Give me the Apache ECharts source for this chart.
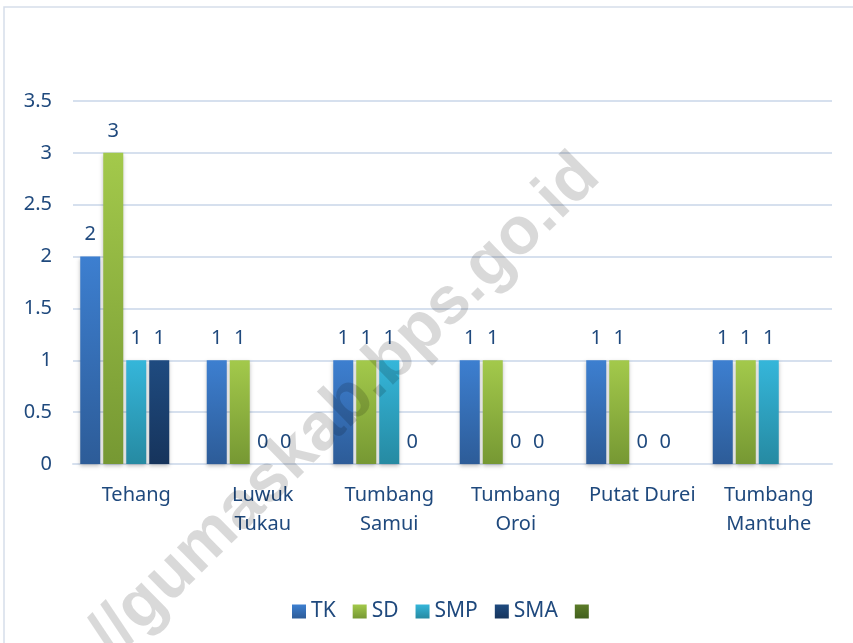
<!DOCTYPE html>
<html>
<head>
<meta charset="utf-8">
<script src="https://cdn.jsdelivr.net/npm/echarts@6/dist/echarts.min.js"></script>
<style>
html,body{margin:0;padding:0;background:#fff;}
#chart{width:853px;height:643px;}
</style>
</head>
<body>
<div id="chart"></div>
<script>
var categories = ['Tehang', 'Luwuk\nTukau', 'Tumbang\nSamui', 'Tumbang\nOroi', 'Putat Durei', 'Tumbang\nMantuhe'];
var seriesNames = ['TK', 'SD', 'SMP', 'SMA', ' '];
var tkValues  = [2, 1, 1, 1, 1, 1];
var sdValues  = [3, 1, 1, 1, 1, 1];
var smpValues = [1, 0, 1, 0, 0, 1];
var smaValues = [1, 0, 0, 0, 0, null];
var fifthValues = [null, null, null, null, null, null];
var yTicks = [0, 0.5, 1, 1.5, 2, 2.5, 3, 3.5];

var textColor = '#1F497D';
var fontFam = '"Noto Sans", "Open Sans", sans-serif';
var gradients = [
  ['#3D7FD0', '#2D5C98'],
  ['#A3C94B', '#769833'],
  ['#35B6DA', '#268AA2'],
  ['#1F4B80', '#16345C'],
  ['#5C7C29', '#42601D']
];
function grad(c) {
  return {type: 'linear', x: 0, y: 0, x2: 0, y2: 1,
    colorStops: [{offset: 0, color: c[0]}, {offset: 1, color: c[1]}]};
}
var allData = [tkValues, sdValues, smpValues, smaValues, fifthValues];

var chart = echarts.init(document.getElementById('chart'));
var series = allData.map(function (d, i) {
  return {
    name: seriesNames[i],
    type: 'bar',
    data: d,
    barWidth: 20,
    barGap: '15%',
    itemStyle: {
      color: grad(gradients[i]),
      shadowBlur: 4,
      shadowColor: 'rgba(0,0,0,0.25)',
      shadowOffsetY: 2
    },
    label: {
      show: i < 4,
      position: 'top',
      distance: 12,
      color: textColor,
      fontSize: 20,
      fontFamily: fontFam
    }
  };
});

chart.setOption({
  animation: false,
  backgroundColor: '#fff',
  graphic: [
    {type: 'rect', shape: {x: 4, y: 7, width: 900, height: 700}, style: {fill: 'none', stroke: '#D6DEEA', lineWidth: 1.5}, z: -10},
    {type: 'text', x: 345, y: 406, rotation: 44.5 * Math.PI / 180, z: 100,
      style: {text: '//gumaskab.bps.go.id', font: 'bold 67px "Liberation Sans", Arial, sans-serif',
        fill: 'rgba(0,0,0,0.15)', align: 'center', verticalAlign: 'middle'}}
  ],
  grid: {left: 73, right: 21, top: 101, bottom: 179, containLabel: false},
  legend: {
    data: seriesNames,
    left: 287, top: 596,
    icon: 'rect', itemWidth: 14, itemHeight: 14, itemGap: 17, itemStyle: {borderWidth: 0},
    textStyle: {color: textColor, fontSize: 21, fontFamily: fontFam}
  },
  xAxis: {
    type: 'category',
    data: categories,
    axisLine: {lineStyle: {color: '#D6E0EE', width: 2}},
    axisTick: {show: false},
    axisLabel: {color: textColor, fontSize: 20, fontFamily: fontFam, margin: 17, lineHeight: 29, interval: 0}
  },
  yAxis: {
    type: 'value',
    min: yTicks[0], max: yTicks[yTicks.length - 1], interval: 0.5,
    axisLine: {show: false},
    axisTick: {show: false},
    splitLine: {lineStyle: {color: '#D6E0EE', width: 2}},
    axisLabel: {color: textColor, fontSize: 20, fontFamily: fontFam, margin: 21}
  },
  series: series
});
</script>
</body>
</html>
